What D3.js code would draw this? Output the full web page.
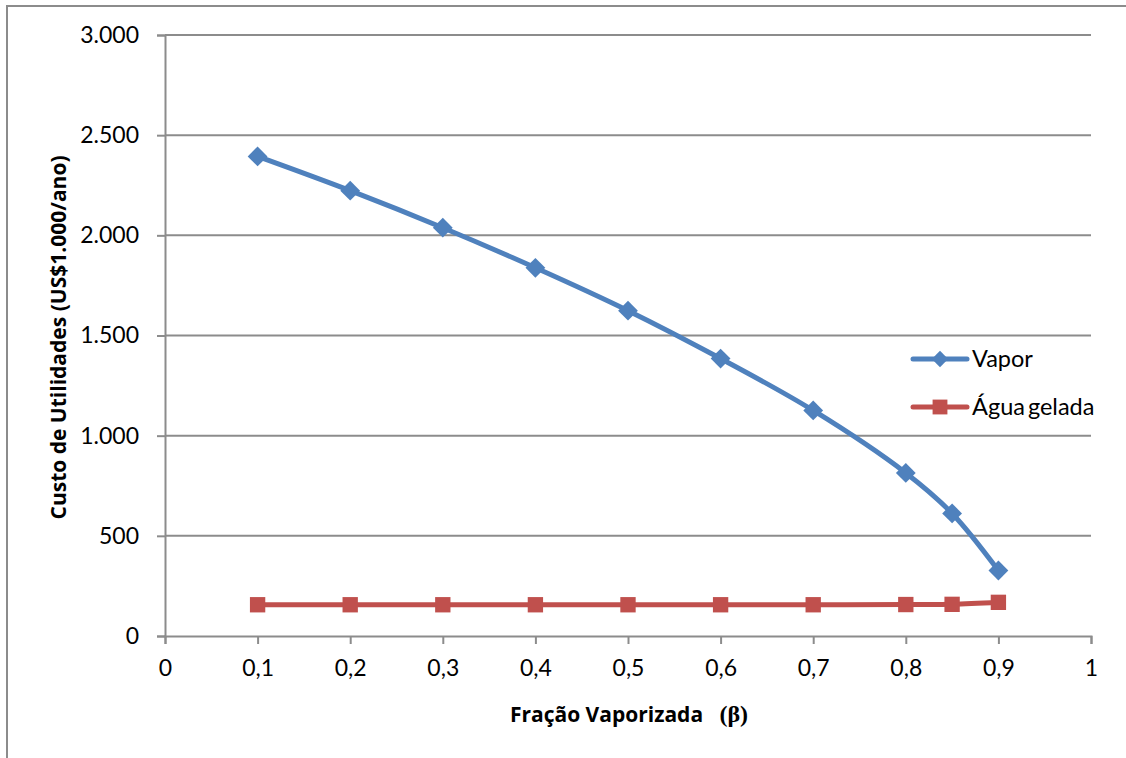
<!DOCTYPE html>
<html>
<head>
<meta charset="utf-8">
<script src="https://cdn.jsdelivr.net/npm/d3@7"></script>
<style>
  html, body { margin: 0; padding: 0; background: #fff; }
  svg { display: block; font-family: Lato, "Noto Sans", sans-serif; }
</style>
</head>
<body>
<svg id="chart" width="1126" height="758"></svg>
<script>
// Fração vaporizada (β) and annual utility costs (US$ 1.000/ano)
const beta = [0.1, 0.2, 0.3, 0.4, 0.5, 0.6, 0.7, 0.8, 0.85, 0.9];
const vapor = [2394, 2223, 2038, 1838, 1624, 1385, 1126, 814, 612, 327];
const aguaGelada = [156, 156, 156, 156, 156, 156, 156, 157, 158, 168];

const xTicks = [0, 0.1, 0.2, 0.3, 0.4, 0.5, 0.6, 0.7, 0.8, 0.9, 1];
const yTicks = [0, 500, 1000, 1500, 2000, 2500, 3000];

const seriesNames = ["Vapor", "Água gelada"];
const seriesColors = ["#4F81BD", "#C0504D"];

const svg = d3.select("#chart");

// outer chart frame
svg.append("rect")
  .attr("x", 7).attr("y", 6)
  .attr("width", 1140).attr("height", 780)
  .attr("fill", "none")
  .attr("stroke", "#8c8c8c")
  .attr("stroke-width", 2);

const plot = { left: 165, right: 1091, top: 35, bottom: 636 };

const x = d3.scaleLinear().domain([0, 1]).range([plot.left, plot.right]);
const y = d3.scaleLinear().domain([0, 3000]).range([plot.bottom, plot.top]);

const fmtY = d3.formatLocale({ decimal: ",", thousands: ".", grouping: [3], currency: ["", ""] }).format(",.0f");
const fmtX = v => String(v).replace(".", ",");

// horizontal gridlines
svg.append("g")
  .selectAll("line")
  .data(yTicks.filter(v => v > 0))
  .join("line")
  .attr("x1", plot.left).attr("x2", plot.right)
  .attr("y1", d => y(d)).attr("y2", d => y(d))
  .attr("stroke", "#8c8c8c")
  .attr("stroke-width", 2);

// y axis
const yAxis = svg.append("g")
  .attr("transform", `translate(${plot.left},0)`)
  .call(d3.axisLeft(y).tickValues(yTicks).tickFormat(fmtY).tickSize(8).tickPadding(18));
yAxis.select(".domain").attr("stroke", "#8c8c8c").attr("stroke-width", 2);
yAxis.selectAll(".tick line").attr("stroke", "#8c8c8c").attr("stroke-width", 2);
yAxis.selectAll(".tick text")
  .style("font-family", "Lato, sans-serif")
  .style("font-size", "23px")
  .attr("fill", "#000");

// x axis
const xAxis = svg.append("g")
  .attr("transform", `translate(0,${plot.bottom})`)
  .call(d3.axisBottom(x).tickValues(xTicks).tickFormat(fmtX).tickSize(8).tickPadding(16));
xAxis.select(".domain").attr("stroke", "#8c8c8c").attr("stroke-width", 2);
xAxis.selectAll(".tick line").attr("stroke", "#8c8c8c").attr("stroke-width", 2);
xAxis.selectAll(".tick text")
  .style("font-family", "Lato, sans-serif")
  .style("font-size", "23px")
  .attr("fill", "#000");

// axis titles
svg.append("text")
  .attr("transform", `translate(59,${(142 + 533) / 2}) rotate(-90)`)
  .attr("text-anchor", "middle")
  .attr("dy", "0.35em")
  .style("font-family", "'Open Sans', sans-serif")
  .style("font-weight", "bold")
  .style("font-size", "21px")
  .text("Custo de Utilidades (US$1.000/ano)");

const xt = svg.append("text")
  .attr("x", 629).attr("y", 722)
  .attr("text-anchor", "middle")
  .style("white-space", "pre")
  .style("font-family", "'Open Sans', sans-serif")
  .style("font-weight", "bold")
  .style("font-size", "21px");
xt.append("tspan").text("Fração Vaporizada   ");
xt.append("tspan")
  .style("font-family", "'Liberation Serif', 'DejaVu Serif', serif")
  .style("font-size", "24px")
  .text("(β)");

// series
const line = d3.line()
  .x(d => x(d[0]))
  .y(d => y(d[1]))
  .curve(d3.curveCatmullRom.alpha(0.5));

const series = [vapor, aguaGelada].map((vals, i) => ({
  name: seriesNames[i],
  color: seriesColors[i],
  points: beta.map((b, j) => [b, vals[j]])
}));

const diamond = d3.symbol().type(d3.symbolDiamond2).size(250);
const square = d3.symbol().type(d3.symbolSquare2).size(300);

series.forEach((s, i) => {
  svg.append("path")
    .datum(s.points)
    .attr("d", line)
    .attr("fill", "none")
    .attr("stroke", s.color)
    .attr("stroke-width", 5)
    .attr("stroke-linejoin", "round");
  svg.append("g")
    .selectAll("path")
    .data(s.points)
    .join("path")
    .attr("transform", d => `translate(${x(d[0])},${y(d[1])})`)
    .attr("d", i === 0 ? diamond : square)
    .attr("fill", s.color);
});

// legend
const legend = svg.append("g");
series.forEach((s, i) => {
  const ly = 359 + i * 48;
  legend.append("line")
    .attr("x1", 913).attr("x2", 967)
    .attr("y1", ly).attr("y2", ly)
    .attr("stroke", s.color)
    .attr("stroke-width", 5)
    .attr("stroke-linecap", "round");
  legend.append("path")
    .attr("transform", `translate(940,${ly})`)
    .attr("d", i === 0 ? d3.symbol().type(d3.symbolDiamond2).size(170)() : d3.symbol().type(d3.symbolSquare2).size(280)())
    .attr("fill", s.color);
  legend.append("text")
    .attr("x", 972).attr("y", ly)
    .attr("dy", "0.36em")
    .style("font-size", "23.5px")
    .style("word-spacing", "-3px")
    .attr("fill", "#000")
    .text(s.name);
});
</script>
</body>
</html>
